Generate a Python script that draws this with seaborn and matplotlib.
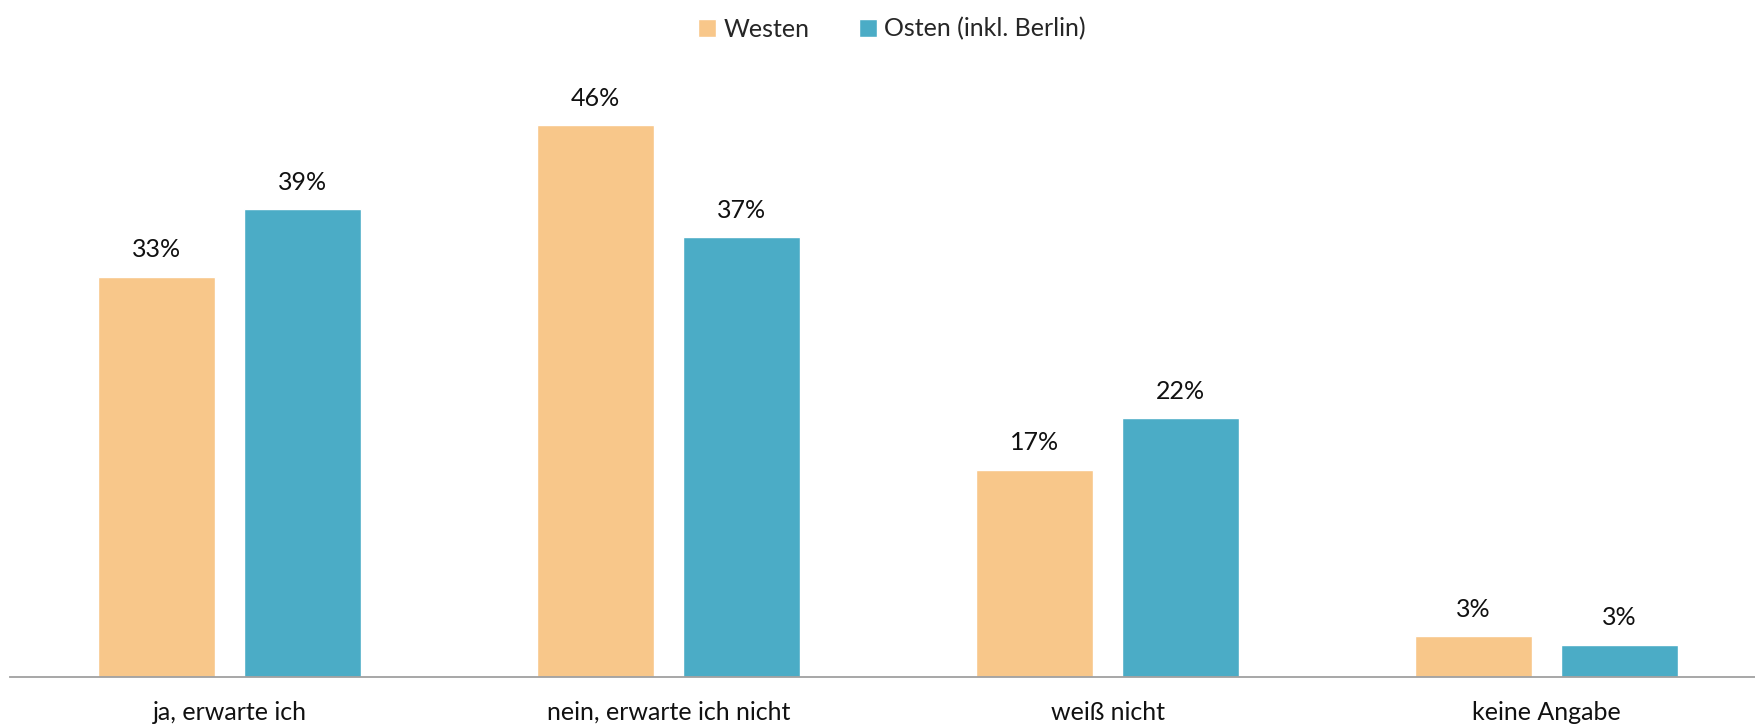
import matplotlib
matplotlib.use("Agg")
import matplotlib.pyplot as plt
import seaborn as sns
import pandas as pd

categories = ["ja, erwarte ich", "nein, erwarte ich nicht", "weiß nicht", "keine Angabe"]
series = ["Westen", "Osten (inkl. Berlin)"]
westen = [33.4, 46.0, 17.3, 3.4]
osten = [39.0, 36.7, 21.6, 2.7]
colors = ["#F8C78A", "#4BACC6"]

df = pd.DataFrame({
    "Antwort": categories * 2,
    "Region": [series[0]] * len(categories) + [series[1]] * len(categories),
    "Anteil": westen + osten,
})

sns.set_theme(style="white")
plt.rcParams["font.family"] = ["Lato", "DejaVu Sans"]

fig = plt.figure(figsize=(17.56, 7.25), dpi=100)
ax = fig.add_axes([0.0057, 0.0662, 1.0, 0.85])

sns.barplot(data=df, x="Antwort", y="Anteil", hue="Region", order=categories,
            hue_order=series, palette=colors, width=0.664, gap=0.2,
            saturation=1, ax=ax, legend=True)

for cont in ax.containers:
    ax.bar_label(cont, labels=[f"{v:.0f}%" for v in cont.datavalues],
                 padding=11, fontsize=18, color="#111111")

ax.set_ylim(0, 51.4)
ax.set_xlim(-0.5, 3.5)
ax.set_xlabel("")
ax.set_ylabel("")
ax.set_yticks([])
ax.tick_params(axis="x", length=0, pad=17, labelsize=18, labelcolor="#111111")
for side in ["top", "right", "left"]:
    ax.spines[side].set_visible(False)
ax.spines["bottom"].set_color("#A0A0A0")
ax.spines["bottom"].set_linewidth(1.3)

handles, labels = ax.get_legend_handles_labels()
ax.legend(handles, labels, loc="upper center", bbox_to_anchor=(0.508, 1.0),
          bbox_transform=fig.transFigure, ncol=2, frameon=False, fontsize=18,
          handlelength=0.7, handleheight=0.7, handletextpad=0.3,
          columnspacing=2.0, borderaxespad=0.3)

fig.savefig("out.png", dpi=100)
